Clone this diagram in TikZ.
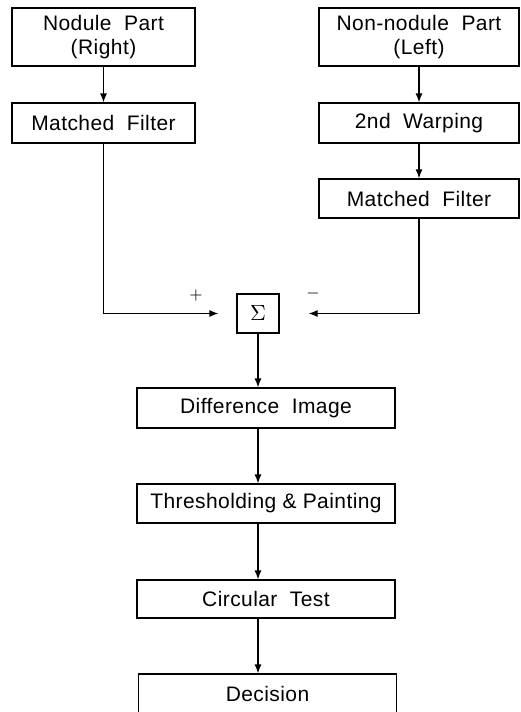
\documentclass[tikz,border=0pt]{standalone}
\usepackage{fontspec}
\setmainfont{Liberation Sans}[LetterSpace = 2]
\usetikzlibrary{arrows.meta}

\begin{document}
\begin{tikzpicture}
    [
        x = 0.5pt, y = -0.5pt,
        every node/.append style = {font = \fontsize{10.5}{12}\selectfont},
        block/.style = {draw, line width = 0.6pt, inner sep = 0, minimum height = 20pt, align = center},
        left block/.style = {block, minimum width = 91.5pt},
        right block/.style = {block, minimum width = 100pt},
        main block/.style = {block, minimum width = 129pt},
        sign/.style = {inner sep = 0, font = \fontsize{8.5}{8.5}\selectfont},
        flow/.style = {line width = 0.6pt, -{Latex[length = 4.5pt, width = 3.5pt]}}]

    \useasboundingbox (0, 0) rectangle (520, 712);
    \clip (0, 0) rectangle (520, 712);

    % two input branches
    \node [left block, minimum height = 29pt] (nodule) at (103.5, 37) {Nodule\ \ Part\\(Right)};
    \node [left block] (mfleft) at (103.5, 123) {Matched\ \ Filter};

    \node [right block, minimum height = 29pt] (nonnodule) at (419, 37) {Non-nodule\ \ Part\\(Left)};
    \node [right block] (warping) at (419, 123) {2nd\ \ Warping};
    \node [right block, minimum height = 19.5pt] (mfright) at (419, 198.5) {Matched\ \ Filter};

    % summing junction
    \node [block, minimum width = 21pt, minimum height = 19.5pt, font = \fontsize{11}{11}\selectfont] (sigma) at (258, 313.5) {$\Sigma$};
    \node [sign] (plus) at (196, 295) {$+$};
    \node [sign] (minus) at (313, 293) {$-$};

    % main chain
    \node [main block] (difference) at (266, 408) {Difference\ \ Image};
    \node [main block, minimum height = 19.5pt] (thresholding) at (266, 503.5) {Thresholding \& Painting};
    \node [main block, minimum height = 19pt] (circular) at (266, 599) {Circular\ \ Test};
    \node [main block] (decision) at (267.5, 694) {Decision};

    \draw [flow] (nodule) -- (mfleft);
    \draw [flow] (nonnodule) -- (warping);
    \draw [flow] (warping) -- (mfright);
    \draw [flow, shorten > = 9pt] (mfleft) |- (sigma);
    \draw [flow, shorten > = 14.5pt] (mfright) |- (sigma);

    \draw [flow] (sigma) -- (sigma |- difference.north);
    \draw [flow] (difference.south -| sigma) -- (sigma |- thresholding.north);
    \draw [flow] (thresholding.south -| sigma) -- (sigma |- circular.north);
    \draw [flow] (circular.south -| sigma) -- (sigma |- decision.north);

\end{tikzpicture}
\end{document}
